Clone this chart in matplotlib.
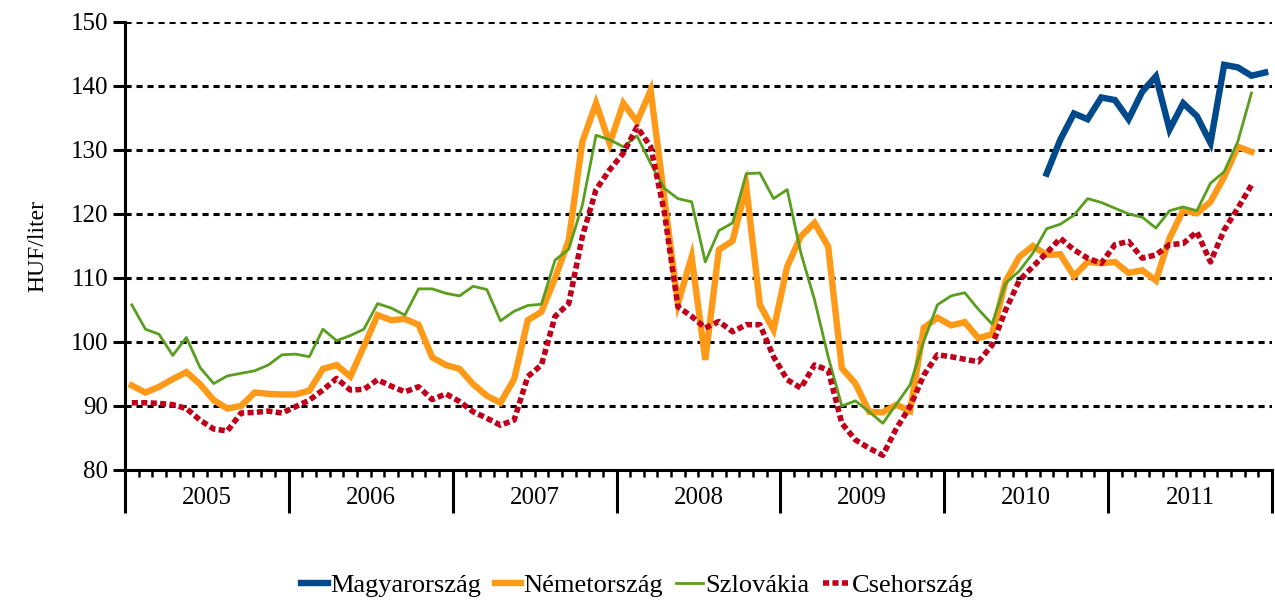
import numpy as np
import matplotlib
matplotlib.use("Agg")
import matplotlib.pyplot as plt

plt.rcParams['font.family'] = ['Liberation Serif', 'DejaVu Serif']

# monthly prices, Jan 2005 - Dec 2011 (HUF/liter)
years = ['2005', '2006', '2007', '2008', '2009', '2010', '2011']

# Magyarország starts in Aug 2010
hu_start = 67
hu = [126.3, 131.6, 135.7, 134.8, 138.2, 137.8, 134.8, 139.1, 141.5, 133.2,
      137.3, 135.3, 131.1, 143.3, 142.9, 141.6, 142.1]

de = [93.2, 92.1, 93.0, 94.2, 95.3, 93.4, 90.9, 89.6, 90.0, 92.1, 91.9, 91.8,
      91.8, 92.4, 95.8, 96.4, 94.6, 99.3, 104.2, 103.4, 103.6, 102.7, 97.6, 96.4,
      95.8, 93.4, 91.6, 90.5, 94.2, 103.4, 104.7, 110.0, 115.9, 131.3, 137.3, 131.0,
      137.3, 134.4, 139.3, 122.5, 106.0, 113.3, 97.2, 114.4, 115.8, 124.3, 105.8, 101.9,
      111.8, 116.5, 118.6, 114.9, 95.9, 93.5, 89.1, 89.0, 90.2, 89.2, 102.2, 103.8,
      102.6, 103.1, 100.6, 101.2, 109.5, 113.3, 115.0, 113.6, 113.7, 110.3, 112.5, 112.3,
      112.5, 110.8, 111.2, 109.6, 116.2, 120.6, 120.1, 121.9, 125.8, 130.5, 129.7]

sk = [105.8, 102.0, 101.2, 97.9, 100.7, 96.0, 93.5, 94.7, 95.1, 95.5, 96.4, 98.0,
      98.1, 97.7, 102.0, 100.2, 101.0, 102.0, 106.0, 105.3, 104.2, 108.3, 108.3, 107.6,
      107.2, 108.7, 108.2, 103.3, 104.8, 105.7, 105.9, 112.8, 114.5, 121.4, 132.3, 131.6,
      130.5, 132.2, 127.9, 124.0, 122.4, 121.9, 112.5, 117.4, 118.6, 126.3, 126.4, 122.4,
      123.8, 113.9, 106.6, 97.7, 90.0, 90.8, 89.1, 87.3, 90.3, 93.3, 100.1, 105.8,
      107.2, 107.7, 105.1, 102.8, 109.2, 111.1, 113.9, 117.7, 118.4, 119.8, 122.4, 121.8,
      120.9, 120.0, 119.5, 117.8, 120.5, 121.1, 120.5, 124.8, 126.6, 131.3, 138.9]

cz = [90.5, 90.5, 90.4, 90.2, 89.6, 87.8, 86.4, 86.1, 88.9, 89.0, 89.2, 88.9,
      89.9, 90.9, 92.5, 94.3, 92.5, 92.6, 94.1, 93.1, 92.2, 93.0, 91.0, 91.9,
      90.7, 89.1, 88.1, 87.0, 87.8, 94.6, 96.4, 104.0, 106.0, 116.5, 123.8, 126.9,
      129.5, 133.6, 130.5, 120.3, 105.5, 104.0, 102.2, 103.2, 101.6, 102.7, 102.7, 97.7,
      94.1, 92.8, 96.4, 95.6, 87.3, 84.7, 83.4, 82.3, 86.5, 89.9, 94.8, 98.0,
      97.7, 97.3, 96.9, 99.5, 105.0, 109.6, 111.8, 113.9, 116.2, 114.4, 113.1, 112.3,
      115.2, 115.7, 113.1, 113.6, 115.2, 115.4, 117.2, 112.5, 117.5, 120.9, 124.5]

n_months = 12 * len(years)
x = np.arange(n_months) + 0.5

fig = plt.figure(figsize=(12.75, 6), dpi=100)
ax = fig.add_axes([0.098, 0.2167, 0.8996, 0.7467])

ax.plot(x[hu_start:hu_start + len(hu)], hu, color='#00498a', lw=4.6,
        solid_joinstyle='miter', label='Magyarország', zorder=3)
ax.plot(x[:len(de)], de, color='#ff9a18', lw=4.6,
        solid_joinstyle='miter', label='Németország', zorder=4)
ax.plot(x[:len(sk)], sk, color='#5a9e1f', lw=2.0, label='Szlovákia', zorder=5)
ax.plot(x[:len(cz)], cz, color='#c0001a', lw=4.0, linestyle=(0, (1.1, 0.6)),
        label='Csehország', zorder=6)

ax.set_xlim(0, n_months)
ax.set_ylim(80, 150)
ax.set_yticks(range(80, 151, 10))
ax.grid(axis='y', color='black', linestyle=(0, (2, 1.6)), linewidth=2.2, zorder=1)

for s in ['top', 'right']:
    ax.spines[s].set_visible(False)
for s in ['left', 'bottom']:
    ax.spines[s].set_linewidth(2.2)

# year separators and month ticks
ax.set_xticks(range(0, n_months + 1, 12))
ax.set_xticklabels([])
ax.set_xticks(range(0, n_months + 1), minor=True)
ax.tick_params(axis='x', which='major', length=31, width=2.2, direction='out')
ax.tick_params(axis='x', which='minor', length=5, width=1.8, direction='out')
ax.tick_params(axis='y', which='major', length=9, width=2.2, direction='out',
               labelsize=18, pad=3)

for k, yr in enumerate(years):
    ax.text(12 * k + 6, -0.062, yr, transform=ax.get_xaxis_transform(),
            ha='center', va='center', fontsize=18)

ax.set_ylabel('HUF/liter', fontsize=17, labelpad=16)

fig.legend(loc='center', bbox_to_anchor=(0.5, 1 - 585 / 600), ncol=4,
           frameon=False, fontsize=19, handlelength=1.0, handletextpad=0.1,
           columnspacing=0.5)

plt.savefig('out.png', dpi=100)
